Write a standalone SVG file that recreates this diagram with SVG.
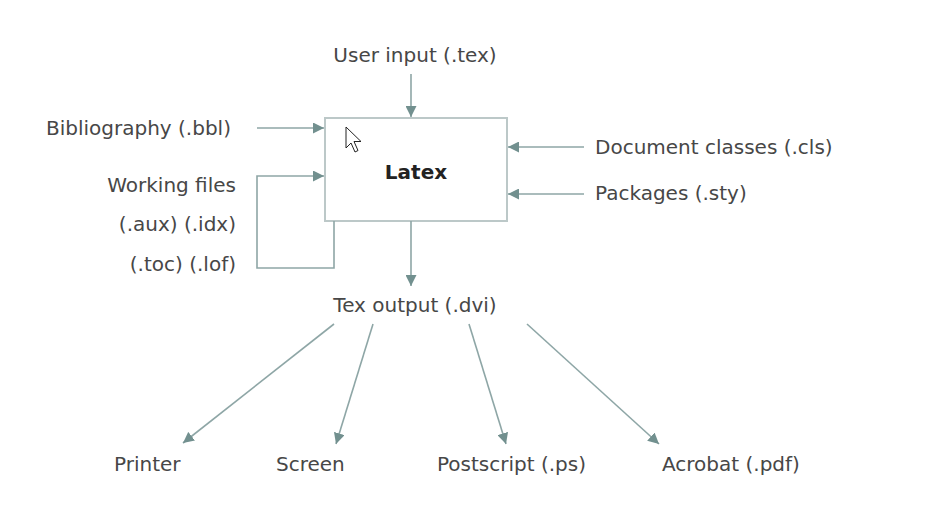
<svg xmlns="http://www.w3.org/2000/svg" width="944" height="525" viewBox="0 0 944 525">
<style>
.t{font-family:"DejaVu Sans","Verdana",sans-serif;font-size:20px;fill:#474747}
.b{font-weight:bold;fill:#222}
.c{fill:none;stroke:#8ea6a6;stroke-width:1.6}
.box{fill:#fff;stroke:#bcc8c8;stroke-width:2}
</style>
<defs>
<marker id="ah" viewBox="0 0 10 10" refX="10" refY="5" markerWidth="11" markerHeight="11" markerUnits="userSpaceOnUse" orient="auto">
<path d="M0,0 L10,5 L0,10 z" fill="#72908f"/>
</marker>
</defs>
<rect width="944" height="525" fill="#fff"/>
<g id="latex">
<rect class="box" x="325" y="118" width="182" height="103"/>
<text class="t b" x="416" y="179" text-anchor="middle">Latex</text>
</g>
<g id="user-input"><text class="t" x="415" y="62" text-anchor="middle">User input (.tex)</text></g>
<g id="bibliography"><text class="t" x="46" y="135">Bibliography (.bbl)</text></g>
<g id="working-files">
<text class="t" x="236" y="192" text-anchor="end">Working files</text>
<text class="t" x="236" y="231" text-anchor="end">(.aux) (.idx)</text>
<text class="t" x="236" y="271" text-anchor="end">(.toc) (.lof)</text>
</g>
<g id="document-classes"><text class="t" x="595" y="154">Document classes (.cls)</text></g>
<g id="packages"><text class="t" x="595" y="200">Packages (.sty)</text></g>
<g id="tex-output"><text class="t" x="415" y="312" text-anchor="middle">Tex output (.dvi)</text></g>
<g id="printer"><text class="t" x="114" y="471">Printer</text></g>
<g id="screen"><text class="t" x="276" y="471">Screen</text></g>
<g id="postscript"><text class="t" x="437" y="471">Postscript (.ps)</text></g>
<g id="acrobat"><text class="t" x="662" y="471">Acrobat (.pdf)</text></g>
<g id="connectors">
<line class="c" x1="411" y1="74" x2="411" y2="117" marker-end="url(#ah)"/>
<line class="c" x1="257" y1="128" x2="324" y2="128" marker-end="url(#ah)"/>
<polyline class="c" points="334,221 334,268 257,268 257,176 324,176" marker-end="url(#ah)"/>
<line class="c" x1="584" y1="147" x2="508" y2="147" marker-end="url(#ah)"/>
<line class="c" x1="584" y1="194" x2="508" y2="194" marker-end="url(#ah)"/>
<line class="c" x1="411" y1="221" x2="411" y2="286" marker-end="url(#ah)"/>
<line class="c" x1="334" y1="324" x2="183" y2="443" marker-end="url(#ah)"/>
<line class="c" x1="373" y1="324" x2="336" y2="444" marker-end="url(#ah)"/>
<line class="c" x1="469" y1="324" x2="506" y2="444" marker-end="url(#ah)"/>
<line class="c" x1="527" y1="324" x2="659" y2="444" marker-end="url(#ah)"/>
</g>
<g id="cursor">
<path d="M346,127 L346,148 L351,143 L355,152 L358,150.5 L354,141.5 L361,141.5 z" fill="#fff" stroke="#222" stroke-width="1"/>
</g>
</svg>
